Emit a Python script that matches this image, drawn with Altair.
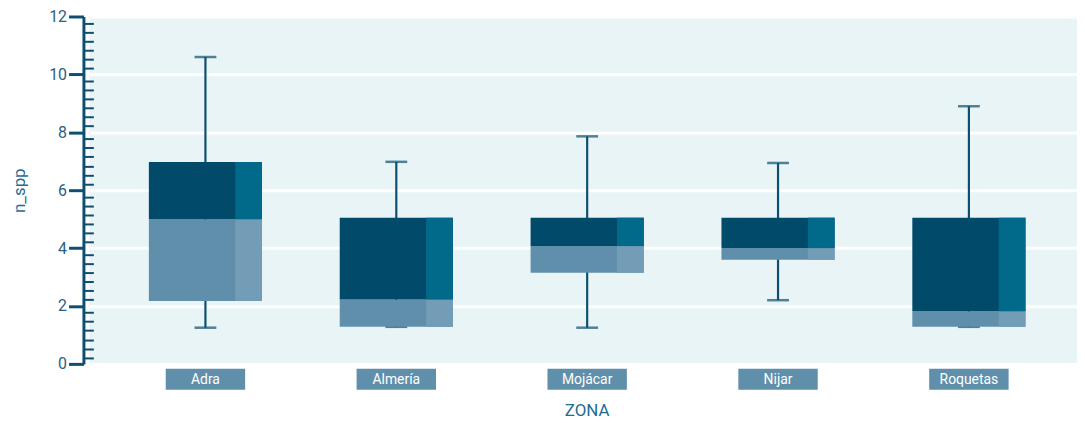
import altair as alt
import pandas as pd

zones = ["Adra", "Almería", "Mojácar", "Nijar", "Roquetas"]
mins = [1.25, 1.28, 1.25, 2.2, 1.28]
q1s = [2.17, 1.28, 3.15, 3.6, 1.28]
meds = [5.0, 2.22, 4.07, 4.0, 1.82]
q3s = [6.97, 5.05, 5.05, 5.05, 5.05]
maxs = [10.6, 6.98, 7.86, 6.94, 8.9]

major_ticks = [0, 2, 4, 6, 8, 10, 12]
minor_ticks = [m + 0.22 + k * 0.31 for m in [0, 2, 4, 6, 8, 10] for k in range(6)]

df = pd.DataFrame({"zona": zones, "lo": mins, "q1": q1s, "med": meds, "q3": q3s, "hi": maxs})

FONT = "'Liberation Sans Narrow', 'Roboto', sans-serif"
AXIS_COL = "#0d4f70"
DARK = "#014a6a"
DARK_HI = "#01698a"
LIGHT = "#5f8fab"
LIGHT_HI = "#739db6"

xs = alt.Scale(domain=zones, range=[0, 1003], paddingOuter=0.108, paddingInner=0)
ys = alt.Scale(domain=[0, 12], nice=False, zero=True)

x_axis = alt.Axis(title="ZONA", labels=False, ticks=False, domain=False,
                  titleFont=FONT, titleFontSize=17, titleColor="#1f6d94",
                  titleFontWeight="normal", titleX=501, titleY=52,
                  titleBaseline="alphabetic", titleAlign="center")
xb = alt.X("zona:N", scale=xs, sort=zones, axis=x_axis)

y_main = alt.Y("lo:Q", scale=ys,
               axis=alt.Axis(title="n_spp", values=major_ticks, orient="left", offset=6,
                             tickSize=15, tickWidth=3, tickColor=AXIS_COL,
                             domainColor=AXIS_COL, domainWidth=3,
                             labelFont=FONT, labelFontSize=16, labelColor="#2b5f80", labelPadding=2,
                             grid=True, gridColor="white", gridWidth=3,
                             titleFont=FONT, titleFontSize=17, titleColor="#1f6d94",
                             titleFontWeight="normal", titleX=-64, titleY=175,
                             titleAngle=-90, titleAlign="center", titleBaseline="middle"))

whisk = alt.Chart(df).mark_rule(color=AXIS_COL, strokeWidth=2.2).encode(
    x=xb, y=y_main, y2="hi:Q")

# minor ticks on an axis turned inward
minor = alt.Chart(df).mark_rule(opacity=0).encode(
    x=xb,
    y=alt.Y("lo:Q", scale=ys,
            axis=alt.Axis(title=None, values=minor_ticks, orient="right", offset=-1001,
                          tickSize=10, tickWidth=2, tickColor=AXIS_COL, labels=False,
                          domain=False, grid=False)))

yq = alt.Y("q1:Q", scale=ys)
lower = alt.Chart(df).mark_bar(size=114, color=LIGHT).encode(x=xb, y=yq, y2="med:Q")
upper = alt.Chart(df).mark_bar(size=114, color=DARK).encode(
    x=xb, y=alt.Y("med:Q", scale=ys), y2="q3:Q")
lower_hi = alt.Chart(df).mark_bar(size=27, xOffset=43.5, color=LIGHT_HI).encode(
    x=xb, y=yq, y2="med:Q")
upper_hi = alt.Chart(df).mark_bar(size=27, xOffset=43.5, color=DARK_HI).encode(
    x=xb, y=alt.Y("med:Q", scale=ys), y2="q3:Q")

cap_hi = alt.Chart(df).mark_tick(size=22, thickness=2.5, color=AXIS_COL).encode(
    x=xb, y=alt.Y("hi:Q", scale=ys))
cap_lo = alt.Chart(df).mark_tick(size=22, thickness=2.5, color=AXIS_COL).encode(
    x=xb, y=alt.Y("lo:Q", scale=ys))

lab_box = alt.Chart(df).mark_bar(size=80, color=LIGHT).encode(
    x=xb, y=alt.value(355), y2=alt.value(376))
lab_txt = alt.Chart(df).mark_text(color="white", font=FONT, fontSize=14, baseline="middle").encode(
    x=xb, y=alt.value(366), text="zona:N")

base = alt.layer(whisk, cap_hi, cap_lo, lower, upper, lower_hi, upper_hi, lab_box, lab_txt)
chart = alt.layer(base, minor).resolve_scale(y="independent").properties(
    width=995, height=350,
    autosize=alt.AutoSizeParams(type="none"),
    padding={"left": 82, "top": 7, "right": 0, "bottom": 58},
).configure_view(fill="#e8f4f6", strokeWidth=0)

chart.save("out.html", embed_options={"renderer": "svg", "actions": False})
